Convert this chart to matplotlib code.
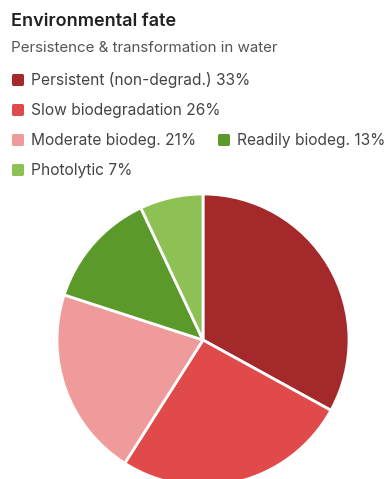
import matplotlib.pyplot as plt
from matplotlib.patches import FancyBboxPatch

plt.rcParams['font.family'] = ['Inter', 'DejaVu Sans']

# fate categories, share of total (%)
labels = ['Persistent (non-degrad.)', 'Slow biodegradation', 'Moderate biodeg.',
          'Readily biodeg.', 'Photolytic']
shares = [33, 26, 21, 13, 7]
colors = ['#a4292b', '#e04a4b', '#f09b9b', '#5b9a2a', '#8dc153']

W, H = 391, 479
fig = plt.figure(figsize=(W / 100, H / 100), dpi=100)

fig.text(11 / W, 1 - 22 / H, 'Environmental fate', fontsize=13, fontweight='semibold',
         color='#222222', va='center')
fig.text(11 / W, 1 - 48 / H, 'Persistence & transformation in water', fontsize=10.9,
         color='#555555', va='center')

# legend rows: (x of swatch, y centre) in pixels
slots = [(12, 80), (12, 110), (12, 140), (218, 140), (12, 170)]
for (x, y), lab, val, c in zip(slots, labels, shares, colors):
    sq = FancyBboxPatch(((x) / W, 1 - (y + 6) / H), 12 / W, 12 / H,
                        boxstyle='round,pad=0,rounding_size=0.004',
                        transform=fig.transFigure, facecolor=c, edgecolor='none')
    fig.patches.append(sq)
    fig.text((x + 19) / W, 1 - y / H, f'{lab} {val}%', fontsize=11.2,
             color='#444444', va='center')

# pie: centre (203, 340) px, radius 146 px
r = 146
ax = fig.add_axes([(203 - r) / W, (H - 340 - r) / H, 2 * r / W, 2 * r / H])
ax.pie(shares, colors=colors, startangle=90, counterclock=False,
       wedgeprops=dict(edgecolor='white', linewidth=2))
ax.set_xlim(-1, 1)
ax.set_ylim(-1, 1)
ax.axis('off')

fig.savefig('out.png', dpi=100)
